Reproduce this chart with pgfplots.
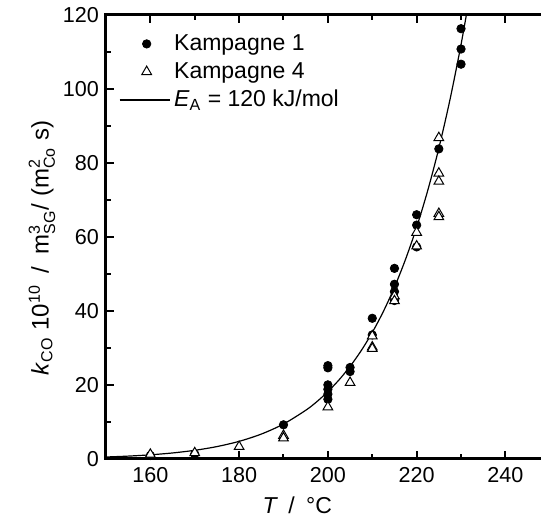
\documentclass[border=0pt]{standalone}
\usepackage{fontspec}
\setmainfont{Liberation Sans}
\usepackage{amsmath}
\usepackage{pgfplots}
\pgfplotsset{compat=1.18}

\begin{document}
\begin{tikzpicture}
\begin{axis}[
    name=ax,
    scale only axis,
    width=222pt, height=222pt,
    xmin=150, xmax=250,
    ymin=0, ymax=120,
    xtick={160,180,...,240},
    minor xtick={150,170,...,250},
    ytick={0,20,...,120},
    minor ytick={10,30,...,110},
    tick align=inside,
    major tick length=4pt,
    minor tick length=2.5pt,
    axis line style={line width=1.5pt},
    tick style={line width=1pt, black},
    /pgf/number format/assume math mode=true,
    tick label style={font=\fontsize{10.8}{12}\selectfont},
    xticklabel style={yshift=-1pt},
    label style={font=\fontsize{12}{14}\selectfont},
    xlabel={\textit{T}\hspace{0.45em}/\hspace{0.5em}°C},
    xlabel style={at={(axis description cs:0.431,-0.104)}, anchor=center, font=\fontsize{11.5}{13}\selectfont},
    ylabel={\textit{k}\textsubscript{CO} 10\textsuperscript{10}\hspace{0.5em}/\hspace{0.5em}m$^{\text{3}}_{\text{SG}}$/ (m$^{\text{2}}_{\text{Co}}$ s)},
    ylabel style={at={(axis description cs:-0.144,0.475)}, anchor=center},
    legend style={at={(axis description cs:0.015,0.975)}, anchor=north west,
        draw=none, fill=none, font=\fontsize{11.5}{13.5}\selectfont, row sep=0.5pt},
    legend cell align=left,
]
% Kampagne 1
\addplot[only marks, mark=*, mark size=2.1pt, black] coordinates {
(160,0.9) (170,1.3) (190,9.2)
(200,25.2) (200,24.6) (200,20.0) (200,18.8) (200,17.5) (200,16.1)
(205,24.7) (205,23.6) (210,38.0) (210,33.5)
(215,51.5) (215,47.2) (215,45.2) (215,42.8)
(220,66.0) (220,63.2) (220,57.3) (225,83.8)
(230,116.3) (230,110.8) (230,106.7)};
% Kampagne 4
\addplot[only marks, mark=triangle*, mark size=2.8pt, black, mark options={fill=white, line width=0.5pt}] coordinates {
(160,1.2) (170,1.6) (180,3.3) (190,6.3) (190,5.6) (200,14.0) (205,20.6)
(210,33.2) (210,30.2) (210,29.8) (215,44.0) (215,42.7)
(220,61.2) (220,57.5) (225,86.8) (225,77.2) (225,75.0) (225,66.3) (225,65.4)};
% Arrhenius fit, E_A = 120 kJ/mol
\addplot[smooth, black, line width=0.6pt, no marks,
    legend image code/.code={\draw[black, line width=0.6pt] (-5pt,0pt) -- (20pt,0pt);}] coordinates {
(150,0.495) (155,0.736) (160,1.087) (165,1.589) (170,2.305) (175,3.314)
(180,4.727) (185,6.693) (190,9.406) (195,13.12) (197.5,15.44) (200,18.17)
(202.5,21.33) (205,24.99) (207.5,29.24) (210,34.16) (212.5,39.84) (215,46.39)
(217.5,53.95) (220,62.61) (222.5,72.56) (225,83.98) (227.5,97.06) (230,112.0)
(232,125.5)};
\legend{Kampagne 1, Kampagne 4, \textit{E}\textsubscript{A} = 120 kJ/mol}
\end{axis}
\pgfresetboundingbox
\useasboundingbox ([shift={(-53pt,-31pt)}]ax.south west) rectangle ([shift={(217.6pt,7.5pt)}]ax.north west);
\end{tikzpicture}
\end{document}
